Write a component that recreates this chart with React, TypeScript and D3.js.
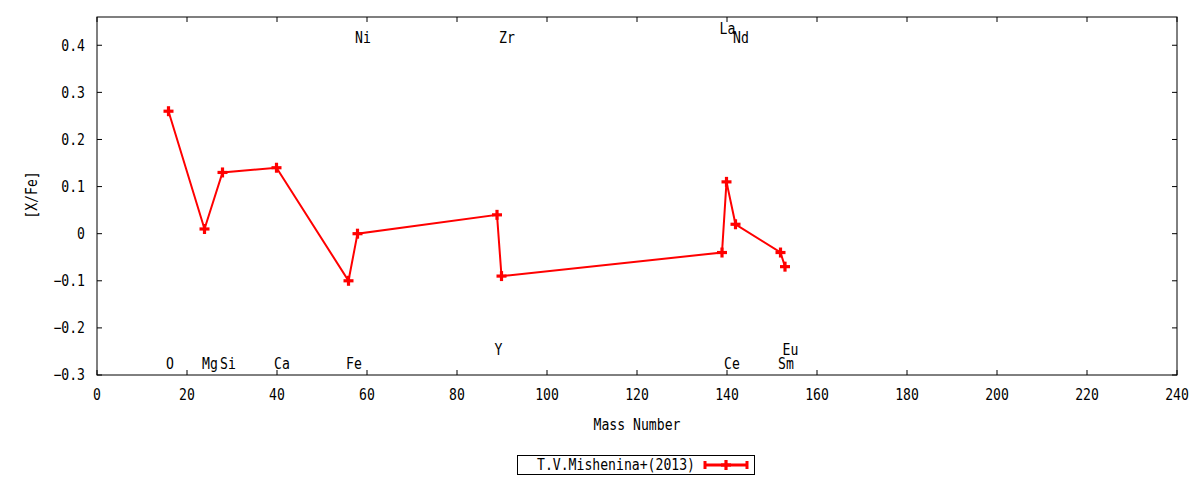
import React from "react";
import * as d3 from "d3";

// ---- data ----
const elements = ["O", "Mg", "Si", "Ca", "Fe", "Ni", "Y", "Zr", "La", "Ce", "Nd", "Sm", "Eu"];
const massNumbers = [16, 24, 28, 40, 56, 58, 89, 90, 139, 140, 142, 152, 153];
const xfeValues = [0.26, 0.01, 0.13, 0.14, -0.1, 0.0, 0.04, -0.09, -0.04, 0.11, 0.02, -0.04, -0.07];
// label row position (in [X/Fe] units)
const labelRows = [-0.277, -0.277, -0.277, -0.277, -0.277, 0.415, -0.247, 0.415, 0.436, -0.277, 0.415, -0.277, -0.247];
const xTicks = [0, 20, 40, 60, 80, 100, 120, 140, 160, 180, 200, 220, 240];
const yTicks = [-0.3, -0.2, -0.1, 0, 0.1, 0.2, 0.3, 0.4];
const seriesName = "T.V.Mishenina+(2013)";

const W = 1200;
const H = 480;
const M = { left: 97, right: 1177, top: 17, bottom: 375 };
const FONT = "'DejaVu Sans Mono', monospace";
const RED = "#ff0000";
const CW = 7.9; // glyph advance

function T(props: any) {
  const { children, ...rest } = props;
  const s = String(children);
  return (
    <text {...rest} fontSize={15} textLength={s.length * CW} lengthAdjust="spacingAndGlyphs" fill="#000">
      {s}
    </text>
  );
}

export default function App() {
  const x = d3.scaleLinear().domain([0, 240]).range([M.left, M.right]);
  const y = d3.scaleLinear().domain([-0.3, 0.46]).range([M.bottom, M.top]);

  const pts = massNumbers.map((m, i) => [x(m) - 0.5, y(xfeValues[i])] as [number, number]);
  const line = d3.line<[number, number]>()(pts) || "";
  const tick = 5;
  const fmtY = (v: number) => (Math.abs(v) < 1e-9 ? "0" : d3.format(".1f")(v));

  const plus = (cx: number, cy: number, k: string) => (
    <g key={k}>
      <line x1={cx - 5} x2={cx + 5} y1={cy} y2={cy} stroke={RED} strokeWidth={3.2} />
      <line x1={cx} x2={cx} y1={cy - 5} y2={cy + 5} stroke={RED} strokeWidth={3.2} />
    </g>
  );

  return (
    <div style={{ position: "fixed", left: 0, top: 0 }}>
      <svg width={W} height={H} style={{ display: "block", background: "#fff" }} fontFamily={FONT}>
        <rect x={0} y={0} width={W} height={H} fill="#fff" />
        {/* ticks */}
        {xTicks.map((t) => (
          <g key={"xt" + t}>
            <line x1={x(t)} x2={x(t)} y1={M.bottom} y2={M.bottom - tick} stroke="#000" />
            <line x1={x(t)} x2={x(t)} y1={M.top} y2={M.top + tick} stroke="#000" />
            <T x={x(t)} y={395} dy="0.35em" textAnchor="middle">{t}</T>
          </g>
        ))}
        {yTicks.map((t) => (
          <g key={"yt" + t}>
            <line x1={M.left} x2={M.left + tick} y1={y(t)} y2={y(t)} stroke="#000" />
            <line x1={M.right} x2={M.right - tick} y1={y(t)} y2={y(t)} stroke="#000" />
            <T x={85} y={y(t)} dy="0.35em" textAnchor="end">{fmtY(t)}</T>
          </g>
        ))}
        <rect x={M.left} y={M.top} width={M.right - M.left} height={M.bottom - M.top} fill="none" stroke="#000" strokeWidth={1} />

        {/* axis titles */}
        <T x={(M.left + M.right) / 2} y={425} dy="0.35em" textAnchor="middle">Mass Number</T>
        <T transform={`translate(32,195) rotate(-90)`} dy="0.35em" textAnchor="middle">[X/Fe]</T>

        {/* element labels */}
        {elements.map((e, i) => (
          <T key={"lb" + e} x={x(massNumbers[i]) - 3} y={y(labelRows[i])} dy="0.35em" textAnchor="start">{e}</T>
        ))}

        {/* series */}
        <path d={line} fill="none" stroke={RED} strokeWidth={2} />
        {pts.map((p, i) => plus(p[0], p[1], "p" + i))}

        {/* legend */}
        <rect x={517.5} y={455.5} width={237} height={19} fill="#fff" stroke="#000" />
        <T x={695} y={465} dy="0.35em" textAnchor="end">{seriesName}</T>
        <line x1={704} x2={748} y1={465} y2={465} stroke={RED} strokeWidth={3} />
        <line x1={705} x2={705} y1={461} y2={469} stroke={RED} strokeWidth={3} />
        <line x1={747} x2={747} y1={461} y2={469} stroke={RED} strokeWidth={3} />
        {plus(726, 465, "leg")}
      </svg>
    </div>
  );
}
